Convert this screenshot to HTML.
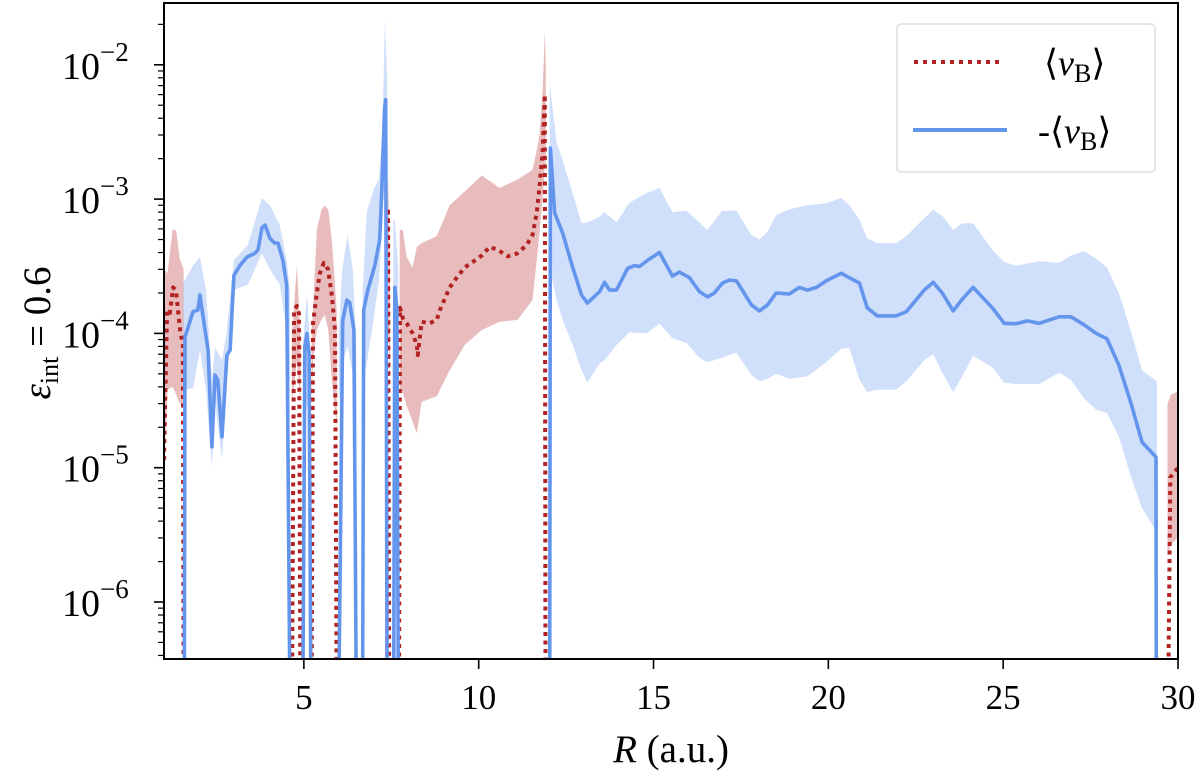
<!DOCTYPE html>
<html><head><meta charset="utf-8">
<style>
html,body{margin:0;padding:0;background:#fff;}
svg{display:block;font-family:"Liberation Serif",serif;}
</style></head>
<body>
<svg id="chart" width="1200" height="779" viewBox="0 0 1200 779" xmlns="http://www.w3.org/2000/svg">
  <defs><clipPath id="plotclip"><rect x="164" y="3" width="1014" height="656"/></clipPath></defs>
  <g id="bands" clip-path="url(#plotclip)"></g>
  <g id="lines" clip-path="url(#plotclip)"></g>
  <g id="axes"></g>
  <rect x="164" y="3" width="1014" height="656" fill="none" stroke="#000" stroke-width="2"/>
  <text x="671" y="762" font-size="39" text-anchor="middle"><tspan font-style="italic">R</tspan> (a.u.)</text>
  <text transform="translate(50,333) rotate(-90)" font-size="39" text-anchor="middle"><tspan font-style="italic">ε</tspan><tspan font-size="26" dy="8">int</tspan><tspan dy="-8"> = 0.6</tspan></text>
  <g>
    <rect x="897" y="24" width="258" height="148" rx="4" fill="#fff" stroke="#ddd" stroke-width="1.5"/>
    <line x1="914" y1="62" x2="1004" y2="62" stroke="#b22222" stroke-width="4" stroke-dasharray="4 5"/>
    <text x="1044" y="75" font-size="36">⟨<tspan font-style="italic">ν</tspan><tspan font-size="26" dy="7">B</tspan><tspan dy="-7">⟩</tspan></text>
    <line x1="913" y1="130" x2="1007" y2="130" stroke="#6495ed" stroke-width="4"/>
    <text x="1038" y="143" font-size="36">-⟨<tspan font-style="italic">ν</tspan><tspan font-size="26" dy="7">B</tspan><tspan dy="-7">⟩</tspan></text>
  </g>
</svg>
<script>
// ---- data (0 = non-positive, clipped to axis bottom; null = segment break) ----
const redR = [1.0,1.09,1.17,1.26,1.34,1.46,1.54,1.56,null,
  4.66,4.72,4.8,4.86,4.9,null,
  5.22,5.26,5.37,5.46,5.57,5.69,5.8,5.89,5.94,null,
  7.38,7.41,7.44,null,
  7.72,7.75,7.83,7.94,8.11,8.23,8.26,8.37,8.6,8.8,8.89,9.17,9.37,9.6,9.83,10.09,10.31,10.54,10.83,11.11,11.37,11.54,11.66,11.74,11.83,11.89,11.91,null,
  29.72,29.78,30.0];
const redMean = [1.14e-5,1.49e-4,1.42e-4,2.2e-4,2.1e-4,1.06e-4,8.2e-5,0,null,
  0,1.5e-4,1.6e-4,1.4e-4,0,null,
  0,1.19e-4,2.0e-4,2.8e-4,3.35e-4,3.0e-4,1.93e-4,1.06e-4,0,null,
  0,8.6e-4,0,null,
  0,1.55e-4,1.3e-4,1.19e-4,1.0e-4,8.2e-5,6.9e-5,1.22e-4,1.19e-4,1.26e-4,1.49e-4,2.2e-4,2.6e-4,3.1e-4,3.4e-4,3.8e-4,4.4e-4,4.2e-4,3.75e-4,3.95e-4,4.55e-4,5.4e-4,7.9e-4,1.23e-3,2.3e-3,6.0e-3,0,null,
  0,8.5e-6,1.0e-5];
const redBandR = [1.0,1.1,1.25,1.35,1.45,1.56,null,
  4.66,4.8,4.9,null,
  5.22,5.26,5.37,5.5,5.6,5.7,5.8,5.94,null,
  7.36,7.41,7.46,null,
  7.74,7.83,7.94,8.11,8.23,8.37,8.8,9.17,9.6,10.09,10.6,11.11,11.54,11.66,11.74,11.83,11.89,11.92,null,
  29.7,29.8,30.0];
const redBandHi = [3e-4,2.8e-4,6e-4,5.8e-4,3.6e-4,3e-4,null,
  1e-4,3.2e-4,1e-4,null,
  1e-4,1.49e-4,5.9e-4,8.3e-4,9.0e-4,8.3e-4,5.0e-4,1.5e-4,null,
  3e-4,1.5e-3,3e-4,null,
  5.9e-4,5.9e-4,3.7e-4,3.1e-4,4.4e-4,4.7e-4,5.3e-4,9.0e-4,1.14e-3,1.5e-3,1.21e-3,1.4e-3,1.65e-3,2.3e-3,3.0e-3,6.5e-3,1.8e-2,1.0e-2,null,
  3e-5,3.5e-5,3.7e-5];
const redBandLo = [1e-5,3.8e-5,4e-5,3.5e-5,3e-5,3e-5,null,
  3e-5,6.3e-5,3e-5,null,
  3e-5,6.3e-5,1.06e-4,1.26e-4,1.37e-4,1.06e-4,4.5e-5,2e-5,null,
  5e-5,1e-4,5e-5,null,
  3.6e-5,3.6e-5,2.9e-5,2.2e-5,1.8e-5,3.1e-5,3.4e-5,5.3e-5,8.2e-5,1.06e-4,1.22e-4,1.26e-4,1.77e-4,3.5e-4,5.6e-4,1.05e-3,1.73e-3,1.95e-3,null,
  2.2e-6,2.7e-6,3e-6];

const blueR = [1.58,1.60,1.83,1.97,2.03,2.11,2.26,2.37,2.46,2.54,2.66,2.80,2.89,3.0,3.17,3.37,3.6,3.69,3.8,3.89,4.03,4.17,4.26,4.4,4.51,4.6,null,
  4.97,5.03,5.09,5.15,5.2,null,
  6.0,6.11,6.23,6.31,6.43,6.5,null,
  6.68,6.71,6.83,7.03,7.17,7.23,7.31,7.34,7.38,null,
  7.57,7.6,7.66,7.7,null,
  12.03,12.05,12.17,12.4,12.69,12.94,13.11,13.46,13.6,13.74,13.94,14.26,14.46,14.6,14.83,15.17,15.54,15.74,16.03,16.31,16.54,16.74,16.97,17.17,17.37,17.54,17.8,18.03,18.26,18.51,18.89,19.17,19.4,19.66,19.94,20.11,20.37,20.6,20.89,21.11,21.4,21.94,22.23,22.74,23.0,23.26,23.57,23.83,24.14,24.69,25.03,25.37,25.69,26.03,26.6,26.94,27.31,27.66,27.97,28.31,28.66,28.97,29.37,29.38];
const blueMean = [0,9.4e-5,1.45e-4,1.49e-4,1.93e-4,1.37e-4,7.5e-5,1.43e-5,4.9e-5,4.5e-5,1.7e-5,6.9e-5,7.5e-5,2.7e-4,3.2e-4,3.7e-4,3.95e-4,4.2e-4,6.1e-4,6.4e-4,5.1e-4,4.7e-4,4.7e-4,3.5e-4,2.3e-4,0,null,
  0,8e-5,1.0e-4,7e-5,0,null,
  0,1.25e-4,1.77e-4,1.7e-4,1.06e-4,0,null,
  0,1.49e-4,2.1e-4,3.2e-4,5.0e-4,1.17e-3,4.8e-3,5.5e-3,0,null,
  0,2.2e-4,1.5e-4,0,null,
  0,2.4e-3,7.9e-4,5.6e-4,3.1e-4,1.93e-4,1.68e-4,2.05e-4,2.4e-4,2.1e-4,2.1e-4,3.05e-4,3.2e-4,3.15e-4,3.5e-4,4.0e-4,2.67e-4,2.86e-4,2.6e-4,2.05e-4,1.87e-4,2.0e-4,2.37e-4,2.5e-4,2.46e-4,2.1e-4,1.63e-4,1.47e-4,1.63e-4,2.0e-4,1.97e-4,2.2e-4,2.1e-4,2.2e-4,2.46e-4,2.6e-4,2.8e-4,2.6e-4,2.37e-4,1.55e-4,1.35e-4,1.35e-4,1.45e-4,2.1e-4,2.4e-4,2.0e-4,1.47e-4,1.8e-4,2.2e-4,1.55e-4,1.19e-4,1.18e-4,1.24e-4,1.19e-4,1.33e-4,1.33e-4,1.16e-4,1.0e-4,9.1e-5,5.8e-5,3.0e-5,1.55e-5,1.2e-5,0];
const blueBandR = [1.55,1.83,2.03,2.2,2.37,2.46,2.66,2.8,3.0,3.4,3.8,4.03,4.31,4.51,4.6,null,
  4.97,5.09,5.2,null,
  6.0,6.1,6.25,6.4,6.5,null,
  6.68,6.8,7.0,7.15,7.25,7.32,7.38,null,
  7.56,7.6,7.7,null,
  12.03,12.23,12.4,12.69,12.94,13.11,13.46,13.6,13.94,14.31,14.8,15.17,15.54,15.94,16.31,16.54,16.97,17.37,17.8,18.03,18.26,18.51,18.89,19.4,19.94,20.37,20.6,20.89,21.11,21.4,21.94,22.23,22.74,23.0,23.26,23.57,23.83,24.14,24.69,25.03,25.37,26.03,26.6,26.94,27.31,27.66,27.97,28.31,28.66,28.97,29.4];
const blueBandHi = [2.37e-4,3.2e-4,3.7e-4,2.1e-4,4.5e-5,7.9e-5,6.3e-5,1.06e-4,3.5e-4,4.55e-4,1.02e-3,9.0e-4,6.4e-4,3.5e-4,2.1e-4,null,
  8e-5,2.0e-4,6e-5,null,
  1e-4,3e-4,5.4e-4,3e-4,8e-5,null,
  2e-4,8e-4,1.2e-3,1.4e-3,3.5e-3,2.2e-2,8e-3,null,
  7e-4,7e-4,3e-4,null,
  7.3e-3,2.62e-3,1.95e-3,1.11e-3,6.6e-4,6.7e-4,7.4e-4,8.0e-4,6.7e-4,9.4e-4,1.11e-3,1.21e-3,8.0e-4,8.2e-4,6.7e-4,5.9e-4,8.2e-4,8.2e-4,5.4e-4,5.0e-4,5.7e-4,7.6e-4,8.4e-4,9.0e-4,9.3e-4,1.02e-3,9.0e-4,7.0e-4,5.1e-4,4.7e-4,4.7e-4,5.3e-4,7.2e-4,8.3e-4,7.5e-4,5.9e-4,6.6e-4,6.6e-4,4.2e-4,3.4e-4,3.2e-4,3.45e-4,3.35e-4,3.8e-4,4.1e-4,3.6e-4,3.1e-4,2.0e-4,1.03e-4,5.3e-5,4.4e-5];
const blueBandLo = [3.8e-5,3.9e-5,7.5e-5,3.8e-5,1.0e-5,3.2e-5,1.14e-5,4.5e-5,2.1e-4,2.3e-4,3.95e-4,3.0e-4,2.3e-4,1.06e-4,3.2e-5,null,
  2e-5,3e-5,1.5e-5,null,
  3e-5,6e-5,8e-5,5e-5,2e-5,null,
  4e-5,6e-5,1.3e-4,2.5e-4,7e-4,1.5e-3,1e-3,null,
  5e-5,8e-5,3e-5,null,
  3.1e-4,1.77e-4,1.26e-4,8.2e-5,5.3e-5,4.3e-5,6.0e-5,6.3e-5,8.2e-5,1.02e-4,1.0e-4,1.18e-4,9.2e-5,8.5e-5,6.6e-5,6.1e-5,6.6e-5,7.2e-5,4.9e-5,4.4e-5,4.6e-5,5.0e-5,4.6e-5,4.8e-5,6.1e-5,7.7e-5,7.8e-5,4.5e-5,3.66e-5,3.8e-5,3.8e-5,4.4e-5,6.3e-5,7.0e-5,5.1e-5,3.66e-5,4.8e-5,6.8e-5,5.6e-5,4.3e-5,4.2e-5,4.2e-5,5.1e-5,4.5e-5,3.3e-5,2.7e-5,2.55e-5,1.7e-5,8.5e-6,5.0e-6,3.3e-6];

const xTicks = [5,10,15,20,25,30];
const yDecades = [-6,-5,-4,-3,-2];

// ---- axes ----
const X0 = 164, X1 = 1178, RMIN = 1, RMAX = 30;
const YDEC6 = 602, DEC = 134.3, YTOP = 3, YBOT = 659;
function xs(r){ return X0 + (r - RMIN) * (X1 - X0) / (RMAX - RMIN); }
function ys(v){ if (!(v > 0)) return YBOT + 40; return YDEC6 - DEC * (Math.log10(v) + 6); }
const NS = 'http://www.w3.org/2000/svg';
function mk(tag, attrs, parent){ const e = document.createElementNS(NS, tag); for (const k in attrs) e.setAttribute(k, attrs[k]); parent.appendChild(e); return e; }

function segments(R, A, B){
  const segs = []; let cur = [];
  for (let i = 0; i < R.length; i++){
    if (R[i] === null){ if (cur.length) segs.push(cur); cur = []; continue; }
    cur.push(B ? [R[i], A[i], B[i]] : [R[i], A[i]]);
  }
  if (cur.length) segs.push(cur);
  return segs;
}

const bandsG = document.getElementById('bands');
const linesG = document.getElementById('lines');
const axesG = document.getElementById('axes');

function drawBand(R, hi, lo, color, name){
  segments(R, hi, lo).forEach((seg, i) => {
    let d = seg.map((p, j) => (j ? 'L' : 'M') + xs(p[0]).toFixed(1) + ',' + ys(p[1]).toFixed(1)).join('');
    for (let j = seg.length - 1; j >= 0; j--) d += 'L' + xs(seg[j][0]).toFixed(1) + ',' + ys(seg[j][2]).toFixed(1);
    const p = mk('path', {d: d + 'Z', fill: color, 'fill-opacity': 0.3, stroke: 'none'}, bandsG);
    
    
  });
}
function drawLine(R, V, color, dash, name){
  segments(R, V).forEach((seg, i) => {
    const d = seg.map((p, j) => (j ? 'L' : 'M') + xs(p[0]).toFixed(1) + ',' + ys(p[1]).toFixed(1)).join('');
    const attrs = {d: d, fill: 'none', stroke: color, 'stroke-width': dash ? 4 : 3.6, 'stroke-linejoin': 'round'};
    if (dash) attrs['stroke-dasharray'] = dash;
    const p = mk('path', attrs, linesG);
    
    
  });
}

drawBand(redBandR, redBandHi, redBandLo, '#b22222', 'red-band');
drawBand(blueBandR, blueBandHi, blueBandLo, '#6495ed', 'blue-band');
drawLine(redR, redMean, '#b22222', '4 4.5', 'red-line');
drawLine(blueR, blueMean, '#6495ed', null, 'blue-line');

// x ticks
xTicks.forEach(t => {
  const x = xs(t);
  const l = mk('line', {x1: x, y1: YBOT, x2: x, y2: YBOT + 10, stroke: '#000', 'stroke-width': 1.6}, axesG);
  
  
  const tx = mk('text', {x: x, y: YBOT + 50, 'font-size': 35, 'text-anchor': 'middle'}, axesG);
  tx.textContent = t;
  
  
});
// y ticks
for (let dcd = -7; dcd <= -2; dcd++){
  for (let m = 1; m <= 9; m++){
    const y = ys(m * Math.pow(10, dcd));
    if (y < YTOP || y > YBOT) continue;
    const major = (m === 1);
    const l = mk('line', {x1: X0 - (major ? 10 : 6), y1: y, x2: X0, y2: y, stroke: '#000', 'stroke-width': major ? 1.6 : 1.2}, axesG);
    
    
  }
}
yDecades.forEach(dcd => {
  const y = ys(Math.pow(10, dcd));
  const tx = mk('text', {x: 62, y: y + 14, 'font-size': 38}, axesG);
  tx.textContent = '10';
  const sup = mk('tspan', {'font-size': 27, dy: -18}, tx);
  sup.textContent = '−' + Math.abs(dcd);
  
  
});
</script>
</body></html>
